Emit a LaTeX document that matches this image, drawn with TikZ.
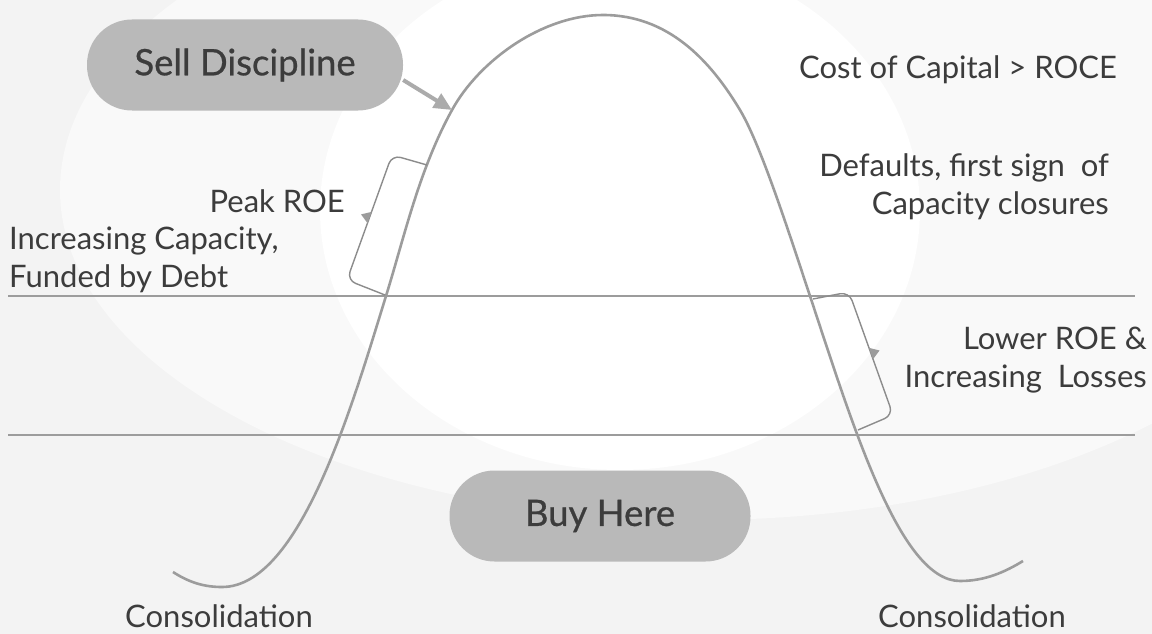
\documentclass[tikz,border=0pt]{standalone}
\usepackage{fontspec}
\setmainfont{Lato}
\newfontfamily\pillfont{Lato}[FakeBold=0.7]
\usetikzlibrary{arrows.meta}

\definecolor{inkgray}{HTML}{3C3C3C}
\definecolor{pillgray}{HTML}{B9B9B9}
\definecolor{linegray}{HTML}{9C9C9C}
\definecolor{bggray}{HTML}{F3F3F3}

\begin{document}
\begin{tikzpicture}[x=1pt, y=-1pt]
            \tikzset{
                pill/.style={fill=pillgray, rounded corners=45pt, minimum height=91pt,
                    text=inkgray, font=\pillfont\fontsize{36.5}{44}\selectfont, inner sep=0pt},
                label/.style={text=inkgray, font=\fontsize{31}{38}\selectfont, inner sep=0pt},
                level/.style={draw=linegray, line width=2pt},
                cycle/.style={draw=linegray, line width=2.6pt},
                brace/.style={draw=linegray!90!black, line width=1.4pt, rounded corners=9pt},
                pointer/.style={draw=linegray!85, line width=4pt, -{Triangle[length=18pt, width=16pt]}}
            }

            % background
            \useasboundingbox (0,0) rectangle (1152,634);
            \fill[bggray] (0,0) rectangle (1152,634);
            \fill[white!50!bggray] (700,190) ellipse [x radius=640pt, y radius=330pt];
            \fill[white] (620,210) ellipse [x radius=300pt, y radius=260pt];

            % levels
            \foreach \y in {296,435}{
                \draw[level] (8,\y) -- (1135,\y);
            }

            % the cycle
            \draw[cycle] (173,572) .. controls (190,583) and (205,587) .. (222,587)
                .. controls (300,587) and (352,406) .. (386,296)
                .. controls (404.6,236) and (419,170) .. (452,110)
                .. controls (479.5,60) and (543,15) .. (603,15)
                .. controls (668,15) and (710,60) .. (740,110)
                .. controls (761,145) and (790,236) .. (810,296)
                .. controls (853,426) and (900,581) .. (960,581)
                .. controls (985,581) and (1005,572) .. (1023,561);

            % pills
            \draw node[pill, minimum width=316pt] (sell) at (245,65) {Sell Discipline};
            \draw node[pill, minimum width=301pt] (buy) at (600,516) {Buy Here};

            \coordinate (hit) at (452,110);
            \draw[pointer] ([yshift=-15pt]sell.east) -- (hit);

            % braces
            \coordinate (lt) at (427,165);
            \coordinate (lb) at (385,295);
            \coordinate (rt) at (813,299);
            \coordinate (rb) at (858,430);
            \draw[brace] (lt) -- (392,155) -- (347,280) -- (lb);
            \draw[brace] (rt) -- (849,292) -- (893,415) -- (rb);
            \fill[linegray] (367.5,223.1) -- (361,214.4) -- (371.5,211.9) -- cycle;
            \fill[linegray] (873,359.2) -- (879.5,350.5) -- (869,347.8) -- cycle;

            % labels
            \draw node[label] (capital) at (958,70) {Cost of Capital > ROCE};
            \draw node[label, align=right, anchor=east] (defaults) at (1109,187)
                {Defaults, first sign\ \ of\\Capacity closures};
            \draw node[label, anchor=east] (peak) at (345,201) {Peak ROE};
            \draw node[label, align=left, anchor=west] (increasing) at (9,260)
                {Increasing Capacity,\\Funded by Debt};
            \draw node[label, align=right, anchor=east] (lower) at (1147,360)
                {Lower ROE \&\\Increasing\ \ Losses};
            \draw node[label] (consleft) at (219,616) {Consolidation};
            \draw node[label] (consright) at (972,616) {Consolidation};
\end{tikzpicture}
\end{document}
